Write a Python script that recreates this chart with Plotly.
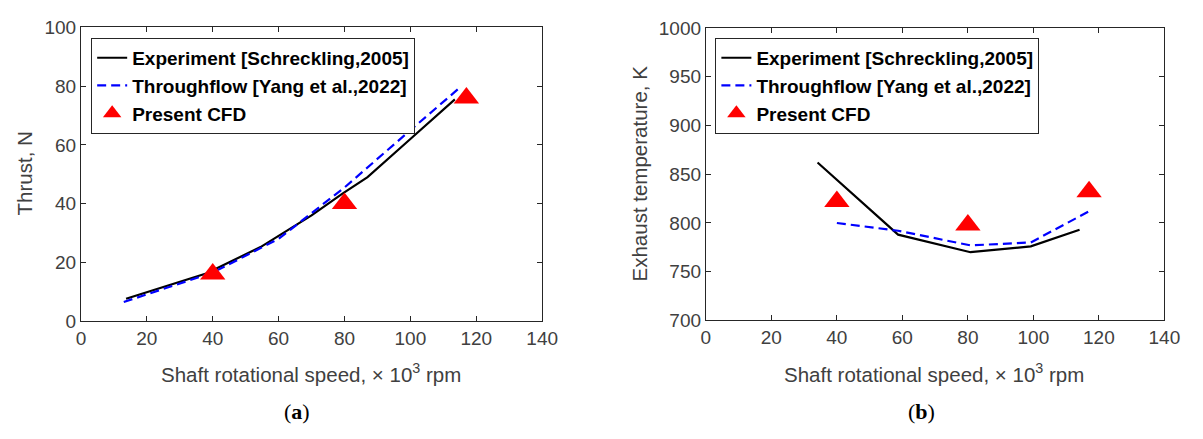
import plotly.graph_objects as go

# Thrust vs shaft speed (panel a)
exp_speed_a = [13.7, 38.0, 54.5, 70.0, 79.5, 87.0, 100.0, 113.5]
exp_thrust = [7.6, 16.2, 25.2, 36.0, 43.5, 49.0, 62.0, 75.5]
tf_speed_a = [13.0, 40.0, 60.0, 80.0, 100.0, 115.0]
tf_thrust = [6.5, 16.5, 28.0, 45.5, 65.0, 79.5]
cfd_speed_a = [40.0, 80.0, 117.0]
cfd_thrust = [16.0, 40.0, 76.0]

# Exhaust temperature vs shaft speed (panel b)
exp_speed_b = [34.1, 58.7, 80.8, 99.2, 114.1]
exp_temp = [862, 788, 770, 776, 793]
tf_speed_b = [40.0, 58.7, 80.8, 99.2, 117.0]
tf_temp = [800, 792, 777, 780, 812]
cfd_speed_b = [40.0, 80.0, 117.0]
cfd_temp = [822, 798, 832]

names = ["Experiment [Schreckling,2005]", "Throughflow [Yang et al.,2022]", "Present CFD"]

W, H = 1203, 439
AX = "#262626"
TICKC = "#404040"
FONT = "Arial"

fig = go.Figure()


def add_panel(xs_e, ys_e, xs_t, ys_t, xs_c, ys_c, xa, ya, leg):
    fig.add_trace(go.Scatter(x=xs_e, y=ys_e, mode="lines", name=names[0],
                             line=dict(color="black", width=2.2),
                             xaxis=xa, yaxis=ya, legend=leg))
    fig.add_trace(go.Scatter(x=xs_t, y=ys_t, mode="lines", name=names[1],
                             line=dict(color="#0000ff", width=2.2, dash="9px,5px"),
                             xaxis=xa, yaxis=ya, legend=leg))
    fig.add_trace(go.Scatter(x=xs_c, y=ys_c, mode="markers", name=names[2],
                             marker=dict(symbol="triangle-up", size=22, color="#ff0000",
                                         line=dict(width=0)),
                             xaxis=xa, yaxis=ya, legend=leg))


add_panel(exp_speed_a, exp_thrust, tf_speed_a, tf_thrust, cfd_speed_a, cfd_thrust, "x", "y", "legend")
add_panel(exp_speed_b, exp_temp, tf_speed_b, tf_temp, cfd_speed_b, cfd_temp, "x2", "y2", "legend2")

axis_common = dict(showline=True, linecolor=AX, linewidth=1, mirror="ticks",
                   ticks="inside", ticklen=5, tickcolor=AX, showgrid=False,
                   zeroline=False, tickfont=dict(family=FONT, size=19, color=TICKC))

legend_font = dict(family=FONT, size=19, color="black", weight="bold")

fig.update_layout(
    width=W, height=H,
    margin=dict(l=0, r=0, t=0, b=0),
    paper_bgcolor="white", plot_bgcolor="white",
    showlegend=True,
    xaxis=dict(domain=[77.3 / W, 546.7 / W], range=[0, 140], dtick=20, anchor="y", **axis_common),
    yaxis=dict(domain=[1 - 326.7 / H, 1 - 18.3 / H], range=[0, 100], dtick=20, anchor="x", **axis_common),
    xaxis2=dict(domain=[713.3 / W, 1180 / W], range=[0, 140], dtick=20, anchor="y2", **axis_common),
    yaxis2=dict(domain=[1 - 326 / H, 1 - 19 / H], range=[700, 1000], dtick=50, anchor="x2", **axis_common),
    legend=dict(x=87.7 / W, y=1 - 29.3 / H, xanchor="left", yanchor="top",
                bgcolor="white", bordercolor=AX, borderwidth=1, font=legend_font),
    legend2=dict(x=723 / W, y=1 - 29.3 / H, xanchor="left", yanchor="top",
                 bgcolor="white", bordercolor=AX, borderwidth=1, font=legend_font),
)

xtitle = "Shaft rotational speed, \u00d7 10<sup>3</sup> rpm"
ann_font = dict(family=FONT, size=20.5, color=TICKC)
annotations = [
    dict(text=xtitle, x=311 / W, y=1 - 381 / H, xref="paper", yref="paper",
         showarrow=False, font=ann_font, xanchor="center", yanchor="middle"),
    dict(text=xtitle, x=946 / W, y=1 - 381 / H, xref="paper", yref="paper",
         showarrow=False, font=ann_font, xanchor="center", yanchor="middle"),
    dict(text="Thrust, N", x=20 / W, y=1 - 172 / H, xref="paper", yref="paper",
         showarrow=False, font=ann_font, textangle=-90, xanchor="center", yanchor="middle"),
    dict(text="Exhaust temperature, K", x=646 / W, y=1 - 172 / H, xref="paper", yref="paper",
         showarrow=False, font=ann_font, textangle=-90, xanchor="center", yanchor="middle"),
    dict(text="(<b>a</b>)", x=297 / W, y=1 - 422 / H, xref="paper", yref="paper",
         showarrow=False, font=dict(family="Liberation Serif", size=22, color="black"),
         xanchor="center", yanchor="middle"),
    dict(text="(<b>b</b>)", x=933 / W, y=1 - 422 / H, xref="paper", yref="paper",
         showarrow=False, font=dict(family="Liberation Serif", size=22, color="black"),
         xanchor="center", yanchor="middle"),
]
fig.update_layout(annotations=annotations)

fig.write_html("out.html")
